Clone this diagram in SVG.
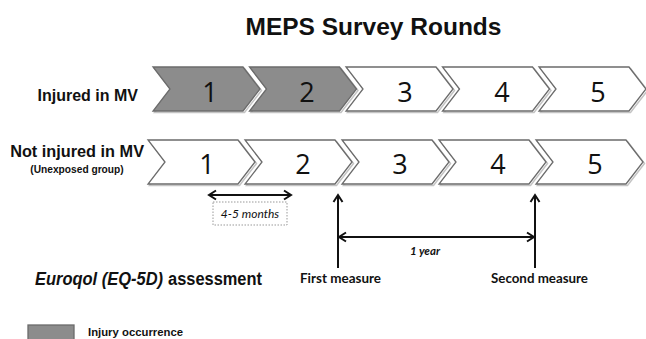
<svg xmlns="http://www.w3.org/2000/svg" width="646" height="339" viewBox="0 0 646 339">
<style>
.chev{stroke:#6b6b6b;stroke-width:1.3;stroke-linejoin:miter}
.shade{fill:#8c8c8c}
.plain{fill:#ffffff}
.shadow{fill:none;stroke:#c4c4c4;stroke-width:1.5}
.num{font-family:"Open Sans","Liberation Sans",sans-serif;font-size:27px;fill:#111;text-anchor:middle}
.lbl{font-family:"Liberation Sans",Arial,sans-serif;font-weight:bold;fill:#111}
.cal{font-family:Lato,"Open Sans",sans-serif;fill:#111}
.arr{stroke:#111;stroke-width:2;fill:none}
</style>
<defs>
<marker id="ah" markerUnits="userSpaceOnUse" markerWidth="12" markerHeight="12" refX="9" refY="6" orient="auto-start-reverse">
<path d="M2,1.5 L9,6 L2,10.5" fill="none" stroke="#111" stroke-width="2"/>
</marker>
<polygon id="cv" points="0,0 90,0 107,22 90,44 0,44 17,22"/>
</defs>
<rect width="646" height="339" fill="#fff"/>
<text x="373.5" y="35" class="lbl" font-size="24.5" text-anchor="middle">MEPS Survey Rounds</text>
<text x="138" y="101" class="lbl" font-size="16" text-anchor="end">Injured in MV</text>
<text x="144" y="157" class="lbl" font-size="16.3" text-anchor="end">Not injured in MV</text>
<text x="77" y="173" class="lbl" font-size="10.2" text-anchor="middle">(Unexposed group)</text>

<g id="r1-1"><use href="#cv" x="154.5" y="68.5" class="shadow"/><use href="#cv" x="153" y="67" class="chev shade"/><text x="210" y="102" class="num">1</text></g>
<g id="r1-2"><use href="#cv" x="251" y="68.5" class="shadow"/><use href="#cv" x="249.5" y="67" class="chev shade"/><text x="307" y="102" class="num">2</text></g>
<g id="r1-3"><use href="#cv" x="347.5" y="68.5" class="shadow"/><use href="#cv" x="346" y="67" class="chev plain"/><text x="405" y="102" class="num">3</text></g>
<g id="r1-4"><use href="#cv" x="444" y="68.5" class="shadow"/><use href="#cv" x="442.5" y="67" class="chev plain"/><text x="502" y="102" class="num">4</text></g>
<g id="r1-5"><use href="#cv" x="540.5" y="68.5" class="shadow"/><use href="#cv" x="539" y="67" class="chev plain"/><text x="598" y="102" class="num">5</text></g>

<g id="r2-1"><use href="#cv" x="149.5" y="141.5" class="shadow"/><use href="#cv" x="148" y="140" class="chev plain"/><text x="207" y="174" class="num">1</text></g>
<g id="r2-2"><use href="#cv" x="246.5" y="141.5" class="shadow"/><use href="#cv" x="245" y="140" class="chev plain"/><text x="303" y="174" class="num">2</text></g>
<g id="r2-3"><use href="#cv" x="343.5" y="141.5" class="shadow"/><use href="#cv" x="342" y="140" class="chev plain"/><text x="400" y="174" class="num">3</text></g>
<g id="r2-4"><use href="#cv" x="440.5" y="141.5" class="shadow"/><use href="#cv" x="439" y="140" class="chev plain"/><text x="498" y="174" class="num">4</text></g>
<g id="r2-5"><use href="#cv" x="537.5" y="141.5" class="shadow"/><use href="#cv" x="536" y="140" class="chev plain"/><text x="595" y="174" class="num">5</text></g>

<g id="connectors">
<line x1="209" y1="195" x2="291" y2="195" class="arr" marker-start="url(#ah)" marker-end="url(#ah)"/>
<line x1="338" y1="268" x2="338" y2="195" class="arr" marker-end="url(#ah)"/>
<line x1="535" y1="268" x2="535" y2="195" class="arr" marker-end="url(#ah)"/>
<line x1="339" y1="237" x2="534" y2="237" class="arr" marker-start="url(#ah)" marker-end="url(#ah)"/>
</g>

<g id="months-label">
<rect x="213" y="202" width="74" height="23" fill="#fff" stroke="#999" stroke-width="1" stroke-dasharray="1.5 1.5"/>
<text x="250" y="217.5" class="cal" font-size="12" font-style="italic" text-anchor="middle">4-5 months</text>
</g>
<text x="425" y="255" class="cal" font-size="11.5" font-style="italic" font-weight="bold" text-anchor="middle">1 year</text>
<text x="340.5" y="283" class="cal" font-size="13.5" font-weight="bold" text-anchor="middle" textLength="81" lengthAdjust="spacingAndGlyphs">First measure</text>
<text x="539.5" y="283" class="cal" font-size="13.5" font-weight="bold" text-anchor="middle" textLength="97" lengthAdjust="spacingAndGlyphs">Second measure</text>

<text x="35" y="285" class="lbl" font-size="18" font-style="italic" textLength="128" lengthAdjust="spacingAndGlyphs">Euroqol (EQ-5D)</text>
<text x="168" y="285" class="lbl" font-size="18" textLength="94" lengthAdjust="spacingAndGlyphs">assessment</text>

<g id="legend">
<rect x="28" y="325" width="46" height="20" fill="#8c8c8c" stroke="#6b6b6b" stroke-width="1.3"/>
<text x="88" y="336" class="lbl" font-size="11.2" textLength="95" lengthAdjust="spacingAndGlyphs">Injury occurrence</text>
</g>
</svg>
